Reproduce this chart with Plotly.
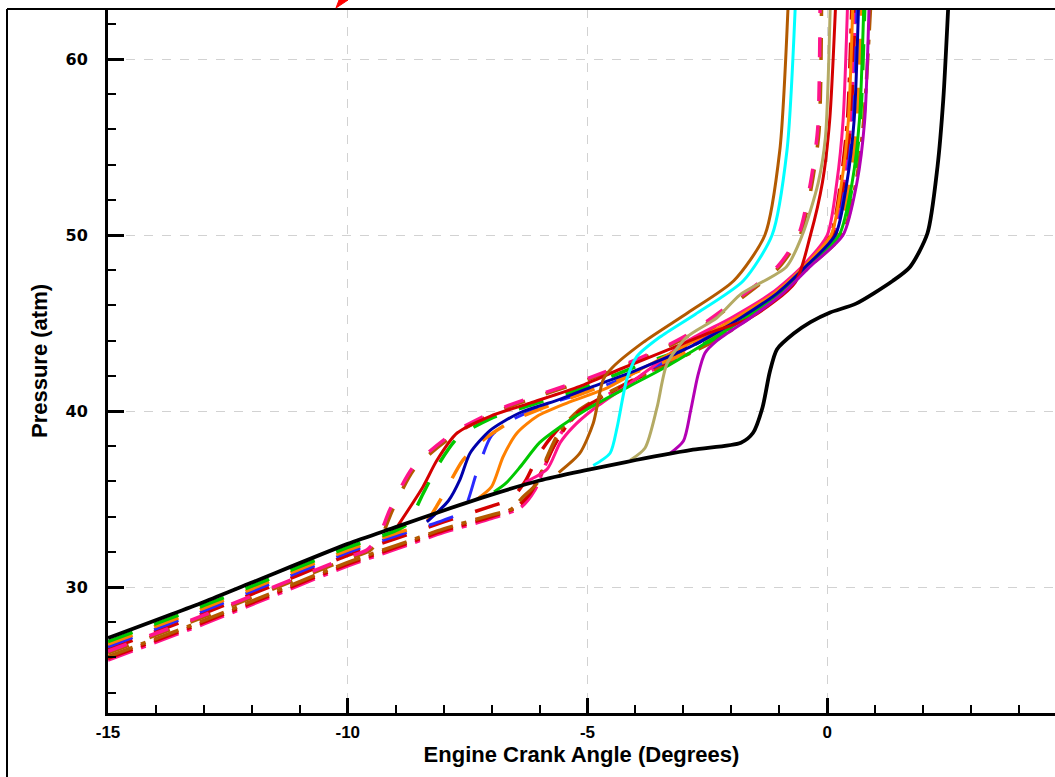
import plotly.graph_objects as go

# ---------------- data (crank angle in degrees, pressure in atm) ----------------
X_TICKS = [-15, -10, -5, 0]
X_TICK_TEXT = ["-15", "-10", "-5", "0"]
Y_TICKS = [30, 40, 50, 60]
Y_TICK_TEXT = ["30", "40", "50", "60"]

black_x = [-15, -13, -12, -10, -9, -8, -7, -6, -5, -4.2, -2.8, -1.8, -1.55, -1.35, -1.2, -1.05,
           -0.7, -0.35, 0.06, 0.6, 1.37, 1.73, 2.09, 2.3, 2.42, 2.52]
black_y = [27.1, 29.15, 30.25, 32.45, 33.4, 34.35, 35.25, 36.05, 36.65, 37.1, 37.8, 38.2, 38.75, 40.2,
           42.2, 43.5, 44.4, 45.05, 45.6, 46.1, 47.4, 48.2, 50.1, 53.9, 57.7, 62.8]

pink_x = [-6.3, -5.84, -5.57, -5.3, -4.88, -4.2, -3.6, -2.9, -2.0, -1.16, -0.53, 0.0, 0.2, 0.33, 0.42]
pink_y = [35.95, 36.7, 38.2, 39.1, 40.1, 41.4, 42.6, 44.0, 45.3, 46.7, 48.2, 50.0, 53.0, 56.5, 62.8]

red_x = [-8.95, -8.43, -8.14, -7.72, -7.03, -6.2, -5.16, -4.3, -3.3, -2.5, -1.6, -0.67, -0.35, -0.1, 0.05, 0.17]
red_y = [33.5, 35.7, 37.2, 38.75, 39.7, 40.45, 41.4, 42.4, 43.5, 44.4, 45.3, 47.3, 50.0, 53.0, 56.5, 62.8]

navy_x = [-8.35, -7.9, -7.66, -7.45, -7.03, -6.41, -5.64, -4.88, -4.0, -3.3, -2.6, -1.8, -1.04, -0.45,
          0.17, 0.41, 0.56, 0.65]
navy_y = [33.7, 34.9, 36.1, 37.6, 38.9, 39.9, 40.6, 41.4, 42.3, 43.1, 44.0, 45.3, 46.7, 48.2, 50.0, 53.0,
          56.5, 62.8]

orange_x = [-7.3, -7.0, -6.76, -6.47, -6.05, -5.43, -4.6, -3.8, -2.76, -1.9, -1.1, -0.49, 0.08, 0.3, 0.44, 0.53]
orange_y = [35.0, 35.7, 37.4, 38.75, 39.7, 40.45, 41.3, 42.5, 44.0, 45.3, 46.7, 48.2, 50.0, 53.0, 56.5, 62.8]

green_x = [-6.95, -6.7, -6.41, -6.0, -5.57, -5.01, -4.2, -3.3, -2.45, -1.7, -0.98, -0.4, 0.25, 0.52, 0.67, 0.76]
green_y = [35.4, 35.9, 36.8, 38.2, 39.1, 40.1, 41.3, 42.6, 44.0, 45.3, 46.7, 48.2, 50.0, 53.0, 56.5, 62.8]

magenta_x = [-3.3, -3.0, -2.85, -2.7, -2.55, -2.3, -1.6, -0.92, -0.36, 0.33, 0.62, 0.78, 0.87]
magenta_y = [37.55, 38.3, 40.0, 42.0, 43.3, 44.0, 45.3, 46.7, 48.2, 50.0, 53.0, 56.5, 62.8]

olive_x = [-4.11, -3.8, -3.55, -3.34, -2.93, -2.3, -1.82, -0.85, -0.52, -0.19, -0.04, 0.06]
olive_y = [37.2, 37.9, 40.2, 42.7, 44.2, 45.3, 46.6, 48.2, 50.0, 52.95, 55.5, 62.8]

cyan_x = [-4.88, -4.53, -4.38, -4.18, -3.97, -3.49, -2.75, -1.75, -1.15, -0.84, -0.67]
cyan_y = [36.9, 37.6, 39.1, 41.8, 43.1, 44.2, 45.5, 47.4, 50.0, 54.8, 62.8]

brown_x = [-5.6, -5.16, -4.88, -4.67, -4.47, -3.84, -2.9, -1.95, -1.3, -0.99, -0.82]
brown_y = [36.5, 37.6, 39.3, 41.8, 42.5, 43.9, 45.6, 47.4, 50.0, 54.8, 62.8]

pinkdash_x = [-15, -13, -12, -10, -9.6, -9.35, -9.12, -8.64, -7.8, -6.89, -5.93, -4.95, -4.0, -3.0, -2.1,
              -1.04, -0.6, -0.35, -0.2, -0.15]
pinkdash_y = [26.35, 28.4, 29.5, 31.7, 32.1, 32.9, 34.4, 36.8, 38.75, 40.05, 41.0, 41.9, 42.9, 44.2, 45.9,
              48.2, 50.0, 52.95, 56.0, 62.8]

browndash_x = [-15, -13, -12, -10, -9.55, -9.3, -9.07, -8.6, -7.75, -6.85, -5.9, -4.92, -3.97, -2.97,
               -2.07, -1.01, -0.57, -0.32, -0.17, -0.12]
browndash_y = [26.25, 28.3, 29.4, 31.6, 32.05, 32.85, 34.35, 36.75, 38.7, 40.0, 40.95, 41.85, 42.85, 44.15,
               45.85, 48.15, 49.95, 52.9, 55.95, 62.8]

greendash_x = [-15, -13, -12, -10, -9.0, -8.75, -8.43, -8.1, -7.7, -7.0, -6.1, -5.1, -4.2, -3.3, -2.42,
               -1.68, -0.97, -0.39, 0.26, 0.54, 0.69, 0.78]
greendash_y = [26.9, 28.95, 30.05, 32.25, 33.2, 33.6, 35.3, 37.0, 38.5, 39.6, 40.4, 41.3, 42.3, 43.2, 44.0,
               45.3, 46.7, 48.2, 50.0, 53.0, 56.5, 62.8]

orangedash_x = [-15, -13, -12, -10, -9.0, -8.4, -8.1, -7.6, -7.2, -6.6, -5.9, -5.0, -4.1, -3.2, -2.51,
                -1.74, -1.0, -0.42, 0.21, 0.47, 0.62, 0.71]
orangedash_y = [26.75, 28.8, 29.9, 32.1, 33.05, 33.6, 34.8, 37.2, 38.3, 39.4, 40.2, 41.1, 42.1, 43.0, 44.0,
                45.3, 46.7, 48.2, 50.0, 53.0, 56.5, 62.8]

bluedash_x = [-15, -13, -12, -10, -9.0, -8.0, -7.6, -7.3, -7.0, -6.5, -5.8, -4.9, -4.0, -3.2, -2.62,
              -1.82, -1.06, -0.46, 0.15, 0.39, 0.54, 0.62]
bluedash_y = [26.6, 28.65, 29.75, 31.95, 32.9, 33.8, 34.3, 36.6, 38.6, 39.6, 40.4, 41.2, 42.1, 43.0, 44.0,
              45.3, 46.7, 48.2, 50.0, 53.0, 56.5, 62.8]

reddash_x = [-15, -13, -12, -10, -9, -8, -7, -6.6, -6.3, -6.0, -5.6, -5.0, -4.2, -3.4, -2.69, -1.86,
             -1.08, -0.47, 0.12, 0.35, 0.49, 0.58]
reddash_y = [26.45, 28.5, 29.6, 31.8, 32.75, 33.7, 34.6, 35.0, 36.0, 37.6, 39.0, 40.3, 41.5, 42.7, 44.0,
             45.3, 46.7, 48.2, 50.0, 53.0, 56.5, 62.8]

browndd_x = [-15, -13, -12, -10, -9, -8, -7, -6.6, -6.35, -6.05, -5.84, -5.57, -5.2, -4.6, -3.8, -3.0,
             -2.33, -1.62, -0.94, -0.37, 0.31, 0.6, 0.76, 0.9]
browndd_y = [26.05, 28.1, 29.2, 31.4, 32.35, 33.3, 34.1, 34.4, 35.1, 35.9, 37.4, 38.9, 40.0, 41.0, 42.0,
             43.1, 44.0, 45.3, 46.7, 48.2, 50.0, 53.0, 56.5, 62.8]

reddd_x = [-15, -13, -12, -10, -9, -8, -7, -6.5, -6.2, -5.95, -5.7, -5.4, -5.0, -4.3, -3.5, -2.78, -1.92,
           -1.11, -0.5, 0.07, 0.28, 0.42, 0.51]
reddd_y = [25.95, 28.0, 29.1, 31.3, 32.25, 33.2, 34.0, 34.5, 35.3, 36.6, 38.0, 39.3, 40.3, 41.4, 42.6,
           44.0, 45.3, 46.7, 48.2, 50.0, 53.0, 56.5, 62.8]

pinkdd_x = [-15, -13, -12, -10, -9, -8, -7, -6.4, -6.1, -5.9, -5.65, -5.35, -4.9, -4.2, -3.4, -2.69,
            -1.86, -1.08, -0.47, 0.12, 0.35, 0.49, 0.58]
pinkdd_y = [25.85, 27.9, 29.0, 31.2, 32.15, 33.1, 33.9, 34.5, 35.5, 36.8, 38.3, 39.5, 40.4, 41.5, 42.7,
            44.0, 45.3, 46.7, 48.2, 50.0, 53.0, 56.5, 62.8]

# ---------------- styles ----------------
PINK = "#ff148c"
BROWN = "#b35a00"
RED = "#d40000"
NAVY = "#0000aa"
BLUE = "#2a2aff"
ORANGE = "#ff8000"
GREEN = "#00c800"
MAGENTA = "#b400b4"
OLIVE = "#b4aa64"
CYAN = "#00ffff"
DASH = "26px,23px"
DASHDOT = "26px,9px,5px,9px"

series = [
    # (x, y, color, dash, width)
    (pinkdd_x, pinkdd_y, PINK, DASHDOT, 3.5),
    (reddd_x, reddd_y, RED, DASHDOT, 3.5),
    (browndd_x, browndd_y, BROWN, DASHDOT, 3.5),
    (reddash_x, reddash_y, RED, DASH, 3.5),
    (bluedash_x, bluedash_y, BLUE, DASH, 3.0),
    (orangedash_x, orangedash_y, ORANGE, DASH, 3.5),
    (greendash_x, greendash_y, GREEN, DASH, 3.5),
    (browndash_x, browndash_y, BROWN, "22px,22px", 3.5),
    (pinkdash_x, pinkdash_y, PINK, "20px,24px", 3.5),
    (pink_x, pink_y, PINK, "solid", 3),
    (green_x, green_y, GREEN, "solid", 3),
    (orange_x, orange_y, ORANGE, "solid", 3),
    (navy_x, navy_y, NAVY, "solid", 3),
    (red_x, red_y, RED, "solid", 3),
    (magenta_x, magenta_y, MAGENTA, "solid", 3),
    (olive_x, olive_y, OLIVE, "solid", 3),
    (cyan_x, cyan_y, CYAN, "solid", 3),
    (brown_x, brown_y, BROWN, "solid", 3),
    (black_x, black_y, "#000000", "solid", 3.8),
]

fig = go.Figure()
for sx, sy, col, dash, w in series:
    fig.add_trace(go.Scatter(
        x=sx, y=sy, mode="lines",
        line=dict(color=col, dash=dash, width=w, shape="spline", smoothing=0.7),
        showlegend=False, hoverinfo="skip"))

W, H = 1055, 777
L, T, B = 108, 9, 64
PW = W - L
PH = H - T - B

def px_to_paper(px, py):
    return (px - L) / PW, (H - B - py) / PH

fx0, _ = px_to_paper(7, 0)
_, fy_bottom = px_to_paper(0, 777)
tri = [px_to_paper(336, 8), px_to_paper(339, 0), px_to_paper(348, 0)]
tri_path = "M {:.5f},{:.5f} L {:.5f},{:.5f} L {:.5f},{:.5f} Z".format(
    tri[0][0], tri[0][1], tri[1][0], tri[1][1], tri[2][0], tri[2][1])

fig.update_layout(
    width=W, height=H,
    margin=dict(l=L, r=0, t=T, b=B, pad=0, autoexpand=False),
    paper_bgcolor="white", plot_bgcolor="white",
    font=dict(family="Liberation Sans, Arial, sans-serif", color="black"),
    shapes=[
        dict(type="line", xref="paper", yref="paper", x0=fx0, x1=1.02, y0=1, y1=1,
             line=dict(color="black", width=2)),
        dict(type="line", xref="paper", yref="paper", x0=fx0, x1=fx0, y0=fy_bottom, y1=1,
             line=dict(color="black", width=2)),
        dict(type="path", xref="paper", yref="paper", path=tri_path,
             fillcolor="#ff0000", line=dict(color="#ff0000", width=1)),
    ],
)

fig.update_xaxes(
    automargin=False,
    range=[-15, -15 + PW / 47.95],
    tickvals=X_TICKS, ticktext=X_TICK_TEXT,
    ticks="inside", ticklen=15, tickwidth=3, tickcolor="black",
    minor=dict(dtick=1, tick0=-15, ticks="inside", ticklen=8, tickwidth=1.5, tickcolor="black",
               showgrid=False),
    showline=True, linewidth=3, linecolor="black",
    showgrid=True, gridcolor="#d2d2d2", gridwidth=1, griddash="dash",
    zeroline=False,
    tickfont=dict(family="Liberation Sans Narrow, Liberation Sans, Arial", size=17, weight="bold"),
    ticklabelstandoff=2,
    title=dict(text="Engine Crank Angle (Degrees)",
               font=dict(family="Liberation Sans, Arial", size=22, weight="bold"), standoff=6),
)
fig.update_yaxes(
    automargin=False,
    range=[30 - (H - B - 587) / 17.6, 30 - (H - B - 587) / 17.6 + PH / 17.6],
    tickvals=Y_TICKS, ticktext=Y_TICK_TEXT,
    ticks="inside", ticklen=16, tickwidth=3, tickcolor="black",
    minor=dict(dtick=2, tick0=30, ticks="inside", ticklen=8, tickwidth=1.5, tickcolor="black",
               showgrid=False),
    showline=True, linewidth=3, linecolor="black",
    showgrid=True, gridcolor="#d2d2d2", gridwidth=1, griddash="dash",
    zeroline=False,
    tickfont=dict(family="DejaVu Sans, Verdana", size=16, weight="bold"),
    ticklabelstandoff=14,
    title=dict(text="Pressure (atm)",
               font=dict(family="Liberation Sans, Arial", size=22, weight="bold"), standoff=12),
)

fig.write_html(
    "out.html",
    config={"displayModeBar": False},
    post_script="document.body.style.margin='0px';document.body.style.overflow='hidden';"
                "document.documentElement.style.overflow='hidden';",
)
